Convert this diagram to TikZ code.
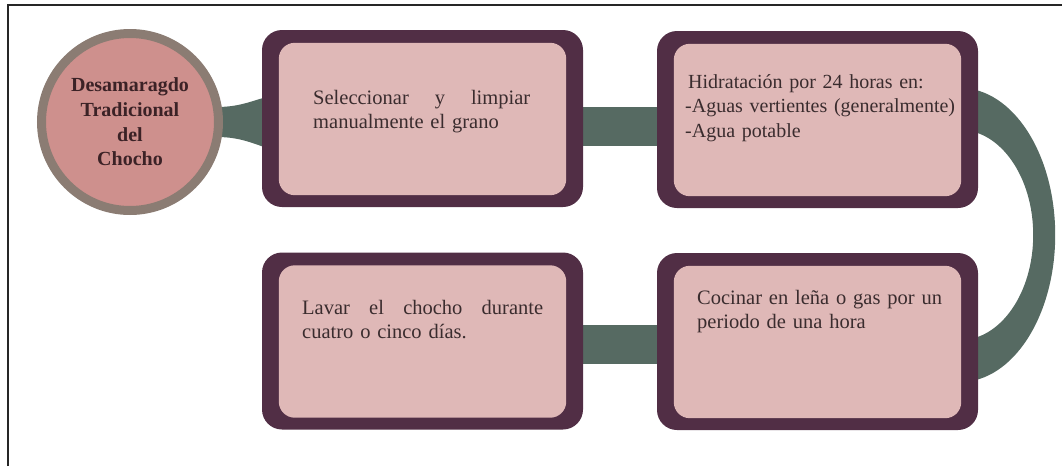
\documentclass[tikz,border=0pt]{standalone}
\usepackage{fontspec}
\setmainfont{Liberation Serif}
\usetikzlibrary{calc}
\definecolor{plum}{HTML}{512E45}
\definecolor{blush}{HTML}{DFB8B7}
\definecolor{sage}{HTML}{566A62}
\definecolor{rosy}{HTML}{CE908D}
\definecolor{taupe}{HTML}{8B7C73}
\definecolor{ink}{HTML}{3A2C2E}
\definecolor{titleink}{HTML}{3B2226}
\pgfdeclarelayer{back}
\pgfsetlayers{back,main}
\begin{document}
\begin{tikzpicture}[x=1pt,y=-1pt,
  stepbox/.style={fill=plum, draw=none, rounded corners=20pt, minimum width=321pt, minimum height=177pt, inner sep=0pt},
  inside/.style={fill=blush, rounded corners=16pt},
  link/.style={fill=sage},
  steptext/.style={anchor=base west, inner sep=0pt, text width=#1, align=left, text=ink, font=\fontsize{20.5}{24.5}\selectfont},
]
\useasboundingbox (0,0) rectangle (1062,466);

% frame lines
\coordinate (fbl) at (8,466);
\coordinate (ftl) at (8,5);
\coordinate (ftr) at (1062,5);
\draw[line width=2pt, black!85] (fbl) -- (ftl) -- (ftr);

% title disc
\node[circle, draw=taupe, line width=9pt, fill=rosy, minimum size=177pt, inner sep=0pt,
      align=center, text=titleink, font=\bfseries\fontsize{20}{24.7}\selectfont]
  (title) at (130,122) {Desamaragdo\\Tradicional\\del\\Chocho};

% step boxes
\node[stepbox] (b1) at (422.5,118.5) {};
\node[stepbox] (b2) at (817.5,119.5) {};
\node[stepbox] (b3) at (817.5,341.5) {};
\node[stepbox] (b4) at (422.5,341) {};
\foreach \b in {b1,b2,b3,b4}
  \fill[inside] ($(\b.north west)+(17,13)$) rectangle ($(\b.south east)+(-17,-12)$);

% connectors behind the boxes
\begin{pgfonlayer}{back}
  \fill[link] ($(title.east)+(-6,-15)$) .. controls +(25,0) and +(-12,2) .. ($(b1.west)+(6,-21.5)$)
     -- ($(b1.west)+(6,29.5)$) .. controls +(-12,-3) and +(25,0) .. ($(title.east)+(-6,15)$) -- cycle;
  \fill[link] ($(b1.east)+(-5,-11.5)$) rectangle ($(b2.west)+(5,26.5)$);
  \coordinate (bend) at ($(b2.east)!0.5!(b3.east)+(-18,4.5)$);
  \fill[link] ($(bend)+(0,-147)$) arc[start angle=-90, end angle=90, x radius=95, y radius=147]
     -- ($(bend)+(0,105)$) arc[start angle=90, end angle=-90, x radius=73, y radius=105] -- cycle;
  \fill[link] ($(b4.east)+(-5,-16)$) rectangle ($(b3.west)+(5,22.5)$);
\end{pgfonlayer}

% step texts
\node[steptext=217pt] (t1) at (313,104) {Seleccionar\hfill y\hfill limpiar\\manualmente el grano};
\node[steptext=275pt, font=\fontsize{20}{24.8}\selectfont] (t2) at (685,88) {\hspace*{3pt}Hidratación por 24 horas en:\\-Aguas vertientes (generalmente)\\-Agua potable};
\node[steptext=255pt] (t3) at (697,304) {Cocinar en leña o gas por un\\periodo de una hora};
\node[steptext=241pt] (t4) at (302,314) {Lavar\hfill el\hfill chocho\hfill durante\\cuatro o cinco días.};
\end{tikzpicture}
\end{document}
